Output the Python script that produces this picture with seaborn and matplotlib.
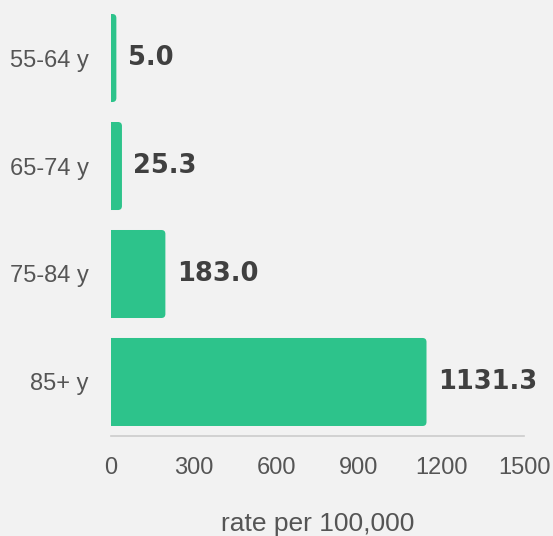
import matplotlib
matplotlib.use("Agg")
import matplotlib.pyplot as plt
from matplotlib.patches import FancyBboxPatch
import seaborn as sns
import pandas as pd

age_groups = ["55-64 y", "65-74 y", "75-84 y", "85+ y"]
rates = [5.0, 25.3, 183.0, 1131.3]
x_ticks = [0, 300, 600, 900, 1200, 1500]

BG = "#f2f2f2"
BAR = "#2dc38b"
TEXT = "#555555"
LABEL = "#404040"

sns.set_theme(style="white")
plt.rcParams["font.family"] = ["Liberation Sans", "DejaVu Sans"]

df = pd.DataFrame({"age": age_groups, "rate": rates})

fig = plt.figure(figsize=(5.53, 5.36), dpi=100, facecolor=BG)
ax = fig.add_axes([0.2007, 0.1866, 0.7469, 0.8059])
ax.set_facecolor(BG)

sns.barplot(data=df, y="age", x="rate", color=BAR, width=0.815,
            saturation=1, orient="h", ax=ax)

ax.set_xlim(0, 1500)
ax.set_ylim(3.5, -0.5)

# Swap the plain bars for rounded ones (corner radius ~4 px)
fig.canvas.draw()
bb = ax.get_window_extent()
x_per_px = 1500 / bb.width
y_per_px = 4.0 / bb.height
r = 4 * x_per_px
aspect = y_per_px / x_per_px
for p in list(ax.patches):
    x0, y0 = p.get_x(), p.get_y()
    w, h = p.get_width(), p.get_height()
    p.remove()
    box = FancyBboxPatch((x0 - r, y0), w + 2 * r, h,
                         boxstyle=f"round,pad=0,rounding_size={r}",
                         mutation_aspect=aspect, facecolor=BAR,
                         edgecolor="none", clip_on=True)
    ax.add_patch(box)

# Value labels to the right of each bar
for i, v in enumerate(rates):
    ax.text(v + 15.5 * x_per_px, i, f"{v:.1f}", va="center", ha="left",
            fontsize=18.5, fontweight="bold", color=LABEL,
            family="DejaVu Sans")

ax.set_xticks(x_ticks)
ax.set_xticklabels([str(t) for t in x_ticks])
ax.tick_params(axis="x", length=0, pad=15, labelsize=17, labelcolor=TEXT)
ax.tick_params(axis="y", length=0, pad=16, labelsize=17, labelcolor=TEXT)
ax.set_ylabel("")
ax.set_xlabel("rate per 100,000", fontsize=19, color=TEXT, labelpad=24)

for side in ["top", "right", "left"]:
    ax.spines[side].set_visible(False)
ax.spines["bottom"].set_color("#cccccc")
ax.spines["bottom"].set_linewidth(1.2)

fig.savefig("out.png", dpi=100, facecolor=BG)
